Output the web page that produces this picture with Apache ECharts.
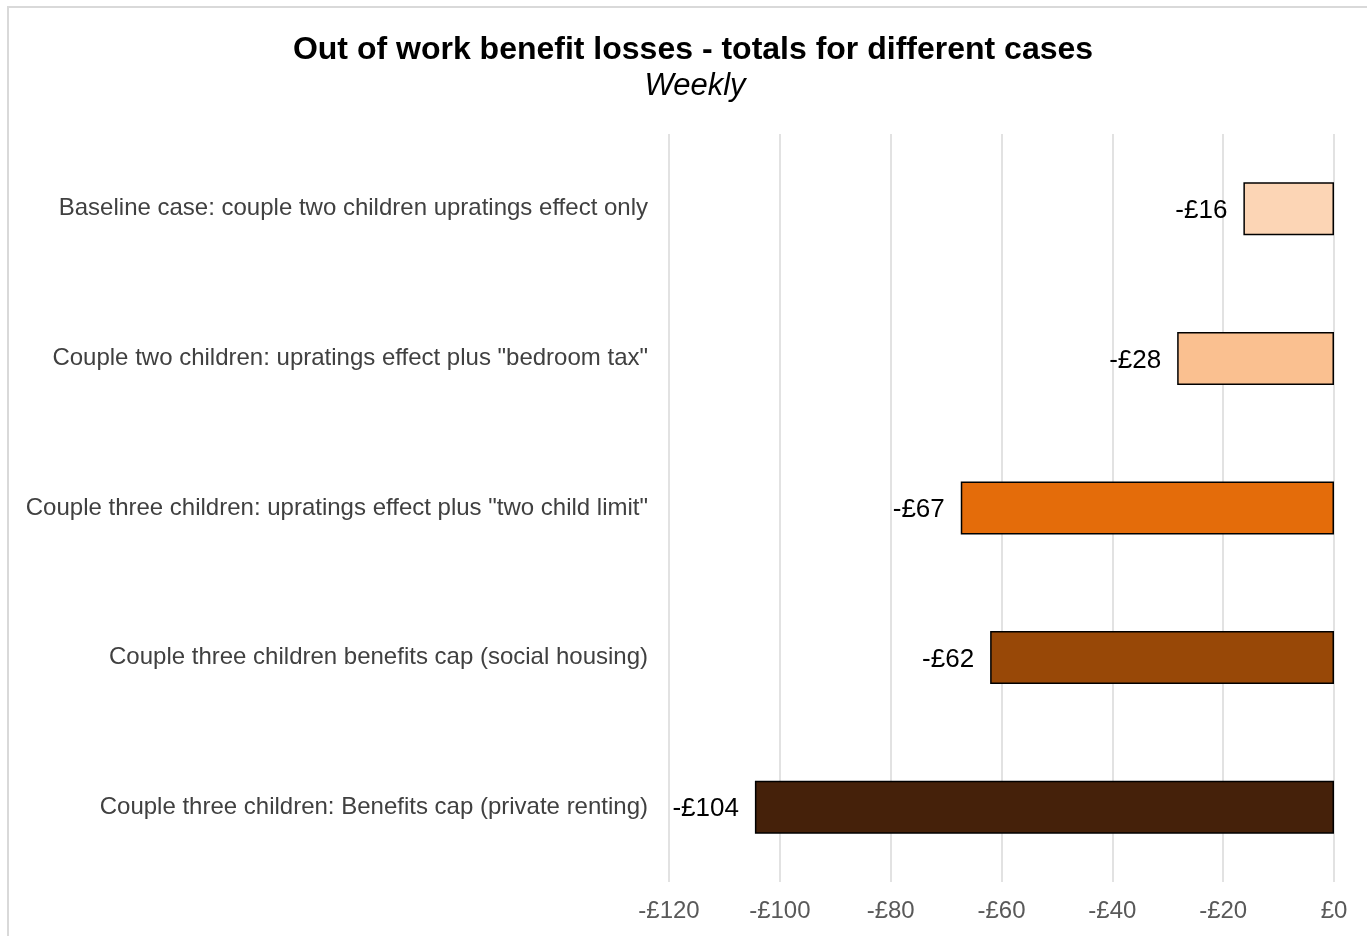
<!DOCTYPE html>
<html>
<head>
<meta charset="utf-8">
<script src="https://cdn.jsdelivr.net/npm/echarts@6/dist/echarts.min.js"></script>
<style>
html, body { margin: 0; padding: 0; background: #fff; }
#chart { width: 1367px; height: 936px; }
</style>
</head>
<body>
<div id="chart"></div>
<script>
var categories = [
  'Baseline case: couple two children upratings effect only',
  'Couple two children: upratings effect plus "bedroom tax"',
  'Couple three children: upratings effect plus "two child limit"',
  'Couple three children benefits cap (social housing)',
  'Couple three children: Benefits cap (private renting)'
];
var values = [-16.35, -28.3, -67.35, -62.05, -104.5];
var barColors = ['#FCD5B5', '#FAC090', '#E46C0A', '#984807', '#45210A'];
var axisTicks = [-120, -100, -80, -60, -40, -20, 0];

var FONT = '"Liberation Sans", Arial, sans-serif';
function money(v) {
  var r = Math.round(v);
  return (r < 0 ? '-' : '') + '£' + Math.abs(r);
}

var chart = echarts.init(document.getElementById('chart'), null, { renderer: 'canvas' });
chart.setOption({
  backgroundColor: '#ffffff',
  animation: false,
  textStyle: { fontFamily: FONT },
  graphic: [{
    type: 'rect',
    shape: { x: 8, y: 7, width: 1420, height: 1000 },
    style: { fill: 'none', stroke: '#d9d9d9', lineWidth: 2 },
    silent: true,
    z: -10
  }],
  title: [{
    text: 'Out of work benefit losses - totals for different cases',
    left: 688, top: 29, textAlign: 'center',
    textStyle: { fontFamily: FONT, fontSize: 32, fontWeight: 'bold', color: '#000000' }
  }, {
    text: 'Weekly',
    left: 690, top: 66, textAlign: 'center',
    textStyle: { fontFamily: FONT, fontSize: 31, fontStyle: 'italic', fontWeight: 'normal', color: '#000000' }
  }],
  grid: { left: 669, right: 33, top: 134, bottom: 54, containLabel: false },
  xAxis: {
    type: 'value',
    min: axisTicks[0], max: axisTicks[axisTicks.length - 1], interval: 20,
    axisLine: { show: false },
    axisTick: { show: false },
    splitLine: { show: true, lineStyle: { color: '#d9d9d9', width: 1.5 } },
    axisLabel: {
      color: '#595959', fontSize: 24, fontFamily: FONT, margin: 17,
      formatter: function (v) { return money(v); }
    }
  },
  yAxis: {
    type: 'category',
    inverse: true,
    data: categories,
    axisLine: { show: false },
    axisTick: { show: false },
    axisLabel: { color: '#404040', fontSize: 24, fontFamily: FONT, margin: 21, padding: [3, 0, 0, 0] }
  },
  series: [{
    type: 'bar',
    barWidth: 53,
    data: values.map(function (v, i) {
      return { value: v, itemStyle: { color: barColors[i] } };
    }),
    itemStyle: { borderColor: '#000000', borderWidth: 1.5 },
    label: {
      show: true,
      position: 'left',
      distance: 16,
      offset: [0, 2],
      color: '#000000',
      fontSize: 26,
      fontFamily: FONT,
      formatter: function (p) { return money(p.value); }
    }
  }]
});
</script>
</body>
</html>
